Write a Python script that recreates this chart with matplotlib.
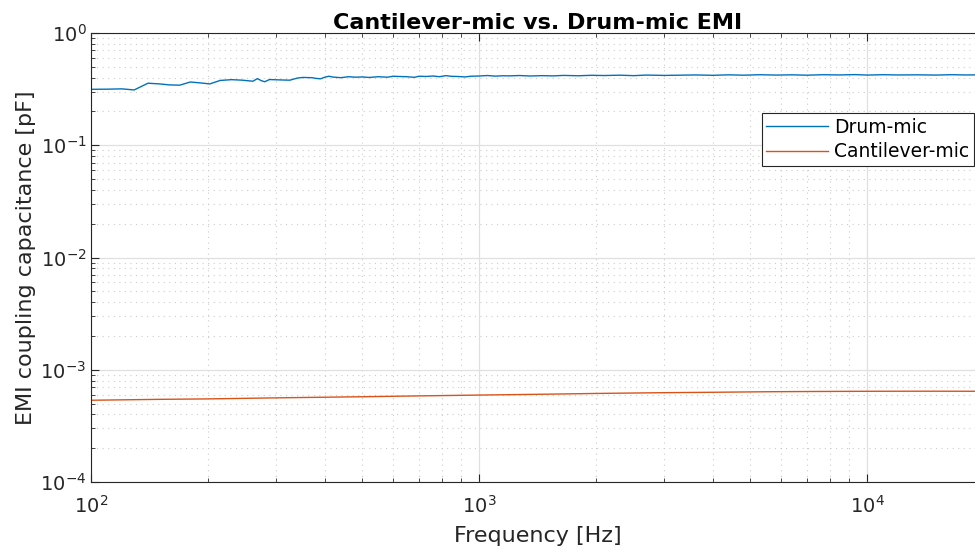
import numpy as np
import matplotlib
matplotlib.use("Agg")
from matplotlib import pyplot as plt
from matplotlib.ticker import LogLocator, NullFormatter

# Drum-mic EMI coupling capacitance [pF]
drum_freq = [100, 110, 120, 129, 140, 150, 159, 169, 180, 190, 202, 215, 230, 245,
             261, 268, 275, 280, 288, 300, 315, 325, 340, 351, 370, 380, 390, 400,
             410, 420, 440, 460, 480, 500, 520, 550, 580, 600, 620, 650, 680, 700,
             730, 760, 790, 820, 850, 880, 920, 950, 1000, 1050, 1100, 1150, 1200,
             1270, 1350, 1450, 1550, 1650, 1800, 1950, 2100, 2300, 2500, 2700, 3000,
             3300, 3600, 4000, 4400, 4800, 5300, 5800, 6400, 7000, 7700, 8500, 9300,
             10000, 11000, 12000, 13500, 15000, 16500, 18000, 20000]
drum_cap = [0.315, 0.316, 0.318, 0.311, 0.357, 0.352, 0.345, 0.343, 0.366, 0.360,
            0.352, 0.378, 0.384, 0.380, 0.372, 0.392, 0.375, 0.368, 0.385, 0.383,
            0.381, 0.380, 0.397, 0.402, 0.400, 0.394, 0.391, 0.404, 0.412, 0.405,
            0.400, 0.408, 0.404, 0.406, 0.402, 0.408, 0.404, 0.412, 0.410, 0.408,
            0.403, 0.412, 0.410, 0.414, 0.408, 0.417, 0.411, 0.410, 0.406, 0.412,
            0.414, 0.418, 0.413, 0.416, 0.415, 0.418, 0.414, 0.417, 0.415, 0.419,
            0.416, 0.420, 0.418, 0.421, 0.417, 0.422, 0.419, 0.421, 0.423, 0.420,
            0.424, 0.421, 0.425, 0.422, 0.424, 0.421, 0.425, 0.423, 0.426, 0.422,
            0.425, 0.423, 0.424, 0.422, 0.425, 0.423, 0.424]

# Cantilever-mic EMI coupling capacitance [pF]
cant_freq = [100, 150, 200, 300, 500, 700, 1000, 1500, 2000, 3000, 4000, 5500,
             7000, 10000, 14000, 20000]
cant_cap = [5.35e-4, 5.45e-4, 5.5e-4, 5.62e-4, 5.75e-4, 5.85e-4, 5.95e-4, 6.06e-4,
            6.15e-4, 6.25e-4, 6.3e-4, 6.37e-4, 6.4e-4, 6.43e-4, 6.44e-4, 6.43e-4]

x_limits = (100, 20000)
y_limits = (1e-4, 1)

plt.rcParams['font.family'] = ['DejaVu Sans']
fig = plt.figure(figsize=(9.75, 5.52), dpi=100)
ax = fig.add_axes([0.0936, 0.1268, 0.9156, 0.8134])

ax.plot(drum_freq, drum_cap, color='#0072BD', lw=1.0, label='Drum-mic')
ax.plot(cant_freq, cant_cap, color='#D95319', lw=1.0, label='Cantilever-mic')

ax.set_xscale('log')
ax.set_yscale('log')
ax.set_xlim(*x_limits)
ax.set_ylim(*y_limits)

ax.xaxis.set_major_locator(LogLocator(base=10, numticks=10))
ax.yaxis.set_major_locator(LogLocator(base=10, numticks=10))
ax.xaxis.set_minor_locator(LogLocator(base=10, subs=np.arange(2, 10), numticks=20))
ax.yaxis.set_minor_locator(LogLocator(base=10, subs=np.arange(2, 10), numticks=20))
ax.xaxis.set_minor_formatter(NullFormatter())
ax.yaxis.set_minor_formatter(NullFormatter())

ax.grid(True, which='major', color='#e0e0e0', lw=0.9, ls='-')
ax.grid(True, which='minor', color='#cccccc', lw=0.8, ls=(0, (1, 4)))
ax.set_axisbelow(True)

ax.tick_params(which='both', direction='in', top=True, right=True,
               colors='#262626', labelsize=14)
ax.tick_params(axis='x', which='major', pad=9)
ax.tick_params(which='major', length=6, width=0.8)
ax.tick_params(which='minor', length=3, width=0.6)
for s in ax.spines.values():
    s.set_color('#262626')
    s.set_linewidth(0.8)

ax.set_xlabel('Frequency [Hz]', fontsize=16, color='#262626', labelpad=7)
ax.set_ylabel('EMI coupling capacitance [pF]', fontsize=16, color='#262626', labelpad=3)
ax.set_title('Cantilever-mic vs. Drum-mic EMI', fontsize=16, fontweight='bold', pad=3)

leg = ax.legend(loc='upper right', bbox_to_anchor=(0.9885, 0.822), fontsize=13.5,
                frameon=True, fancybox=False, edgecolor='#262626', framealpha=1,
                handlelength=3.3, handletextpad=0.3, borderpad=0.25, labelspacing=0.3,
                borderaxespad=0)
leg.get_frame().set_linewidth(0.8)

fig.savefig('out.png', dpi=100)
